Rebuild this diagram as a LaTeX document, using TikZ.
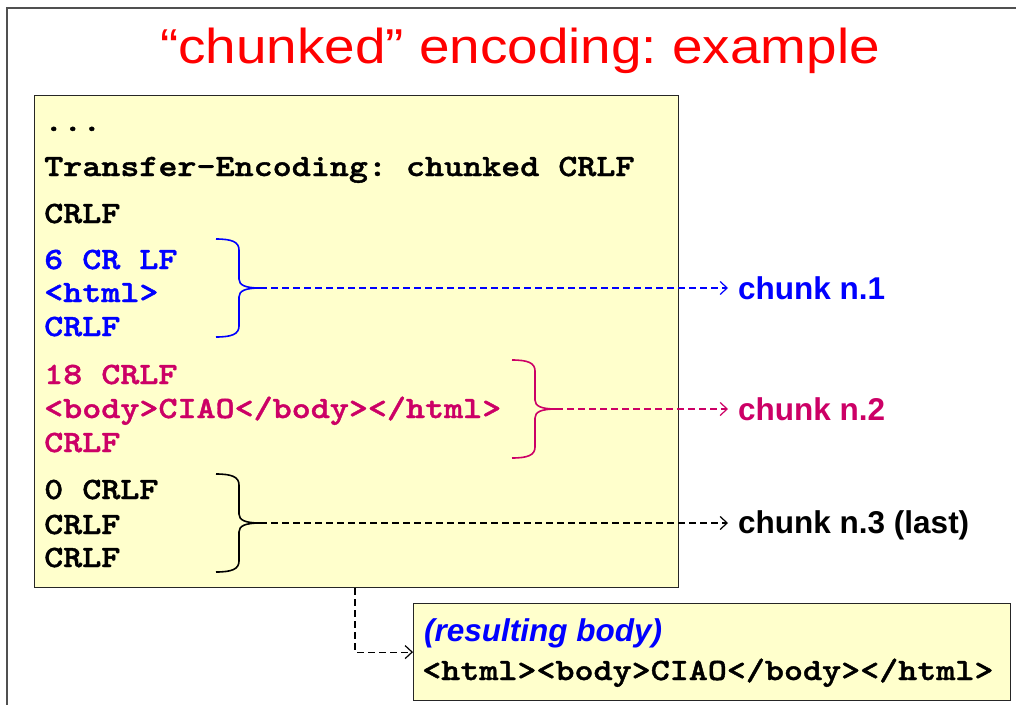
\documentclass[tikz,border=0pt]{standalone}
\usepackage{fontspec}
\usepackage{graphicx}
\setmainfont{Liberation Sans}
\newfontfamily\codefont{lmmonolt10-bold}[Extension=.otf,FakeStretch=1.17,FakeBold=1.3]
\usetikzlibrary{arrows.meta}
\definecolor{paleyellow}{RGB}{255,255,204}
\definecolor{chunkblue}{RGB}{0,0,255}
\definecolor{chunkmagenta}{RGB}{204,0,102}
\definecolor{titlered}{RGB}{255,0,0}
\definecolor{framegray}{RGB}{80,80,80}

\begin{document}
\frenchspacing
\begin{tikzpicture}[x=1pt,y=-1pt,
  codeline/.style={anchor=base west,inner sep=0pt,
    font=\codefont\fontsize{31}{34}\selectfont},
  chunklabel/.style={anchor=base west,inner xsep=10pt,inner ysep=0pt,
    font=\bfseries\fontsize{31.5}{34}\selectfont},
  panel/.style={draw=black!85,line width=1.2pt,fill=paleyellow,
    anchor=north west,inner sep=0pt},
  linkarrow/.style={dash pattern=on 7pt off 4pt,line width=1.2pt,
    -{Straight Barb[length=7pt,width=13pt,line width=1.2pt]}},
  bracestroke/.style={line width=1.6pt},
  chunkbrace/.pic={
    \draw[bracestroke,pic actions] (0,0) .. controls (16,0) and (23,3) .. (23,11)
      -- (23,40) .. controls (23,46) and (29,49) .. (44,49)
      .. controls (29,49) and (23,52) .. (23,58)
      -- (23,87) .. controls (23,95) and (16,98) .. (0,98);
    \coordinate (-tip) at (44,49);
  }
]
\useasboundingbox (0,0) rectangle (1016,704);
\clip (0,0) rectangle (1016,704);

% slide frame
\draw[framegray,line width=1.6pt] (7,8) rectangle (1040,730);

% title
\node[anchor=base,inner sep=0pt,text=titlered,font=\fontsize{49}{56}\selectfont]
  (title) at (520,63) {\scalebox{1.12}[1]{“chunked” encoding: example}};

% message panel
\node[panel,minimum width=644pt,minimum height=492pt] (mainbox) at (34,95) {};

\node[codeline] (dots)   at (44,131) {...};
\node[codeline] (header) at (44,176) {Transfer-Encoding: chunked CRLF};
\node[codeline] (blank)  at (44,223) {CRLF};

\node[codeline,text=chunkblue] (c1a) at (44,269) {6 CR LF};
\node[codeline,text=chunkblue] (c1b) at (44,302) {<html>};
\node[codeline,text=chunkblue] (c1c) at (44,336) {CRLF};

\node[codeline,text=chunkmagenta] (c2a) at (44,384) {18 CRLF};
\node[codeline,text=chunkmagenta] (c2b) at (44,418) {<body>CIAO</body></html>};
\node[codeline,text=chunkmagenta] (c2c) at (44,452) {CRLF};

\node[codeline] (c3a) at (44,499) {0 CRLF};
\node[codeline] (c3b) at (44,534) {CRLF};
\node[codeline] (c3c) at (44,567) {CRLF};

% braces grouping each chunk
\pic[chunkblue]    (b1) at (216,239) {chunkbrace};
\pic[chunkmagenta] (b2) at (512,360) {chunkbrace};
\pic[black]        (b3) at (216,474) {chunkbrace};

% chunk labels
\node[chunklabel,text=chunkblue]    (l1) at (728,299) {chunk n.1};
\node[chunklabel,text=chunkmagenta] (l2) at (728,420) {chunk n.2};
\node[chunklabel,text=black]        (l3) at (728,533) {chunk n.3 (last)};

\draw[linkarrow,chunkblue]    (b1-tip) -- (b1-tip -| l1.west);
\draw[linkarrow,chunkmagenta] (b2-tip) -- (b2-tip -| l2.west);
\draw[linkarrow,black]        (b3-tip) -- (b3-tip -| l3.west);

% resulting body
\node[panel,minimum width=597pt,minimum height=97pt] (result) at (413,603) {};
\node[anchor=base west,inner sep=0pt,text=chunkblue,
  font=\bfseries\itshape\fontsize{31.5}{34}\selectfont]
  (reslabel) at (424,641) {(resulting body)};
\node[codeline] (rescode) at (422,680) {<html><body>CIAO</body></html>};

\coordinate (drop) at (355,0);
\draw[linkarrow,black] (mainbox.south -| drop) |- (result.west);
\end{tikzpicture}
\end{document}
